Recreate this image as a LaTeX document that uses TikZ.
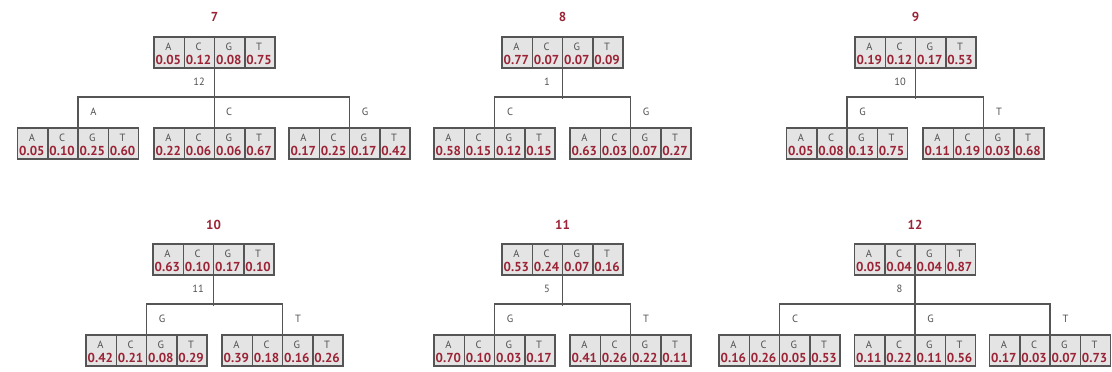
\documentclass[tikz,border=0pt]{standalone}
\usepackage{fontspec}
\setmainfont{PT Sans}
\definecolor{numred}{HTML}{9B2335}
\definecolor{cellfill}{HTML}{E4E4E4}
\definecolor{edgegray}{HTML}{555555}
\definecolor{lettgray}{HTML}{505050}
\tikzset{
  pb/.style={draw=edgegray, line width=1.5pt, fill=cellfill, minimum width=121pt,
    minimum height=31pt, inner sep=0pt, anchor=north,
    path picture={\foreach \i in {1,2,3}{\draw[edgegray, line width=1.5pt]
      ([xshift=\i*30.25pt]path picture bounding box.north west) --
      ([xshift=\i*30.25pt]path picture bounding box.south west);}}},
  lt/.style={anchor=base, inner sep=0pt, text=lettgray, font=\fontsize{10.5}{12}\selectfont},
  nv/.style={anchor=base, inner sep=0pt, text=numred, font=\bfseries\fontsize{13}{14}\selectfont},
  ttl/.style={text=numred, font=\bfseries\fontsize{13}{15}\selectfont, inner sep=0pt},
  wt/.style={text=lettgray, font=\fontsize{10.5}{12}\selectfont, inner sep=0pt},
  conn/.style={draw=edgegray, line width=1.2pt},
}
\newcommand\pbox[7]{%
  \node[pb] (#1) at (#2,#3) {};
  \foreach \L/\V [count=\j] in {A/#4,C/#5,G/#6,T/#7}{
    \node[lt] (#1-l\j) at ([xshift=\j*30.25pt-15.125pt, yshift=-14pt]#1.north west) {\L};
    \node[nv] (#1-v\j) at ([xshift=\j*30.25pt-15.125pt, yshift=-28.5pt]#1.north west) {\V};
  }%
}
\begin{document}
\begin{tikzpicture}[x=1pt,y=-1pt]
\useasboundingbox[fill=white] (0,0) rectangle (1112,372);
% ---- panel 7
\node[ttl] (t7) at (214.5,17) {7};
\pbox{p7}{214.5}{36}{0.05}{0.12}{0.08}{0.75}
\pbox{c7a}{78}{127}{0.05}{0.10}{0.25}{0.60}
\pbox{c7b}{214.5}{127}{0.22}{0.06}{0.06}{0.67}
\pbox{c7c}{349.5}{127}{0.17}{0.25}{0.17}{0.42}
\draw[conn] (p7.south) -- (c7b.north);
\draw[conn] (c7a.north) -- ++(0,-30) -| (c7c.north);
\node[wt] (w7) at (199,82) {12};
\node[wt] (b7a) at (93.5,112) {A};
\node[wt] (b7b) at (229,112) {C};
\node[wt] (b7c) at (365,112) {G};
% ---- panel 8
\node[ttl] (t8) at (562.5,17) {8};
\pbox{p8}{562.5}{36}{0.77}{0.07}{0.07}{0.09}
\pbox{c8a}{494.5}{127}{0.58}{0.15}{0.12}{0.15}
\pbox{c8b}{630.5}{127}{0.63}{0.03}{0.07}{0.27}
\draw[conn] (p8.south) -- ++(0,30);
\draw[conn] (c8a.north) -- ++(0,-30) -| (c8b.north);
\node[wt] (w8) at (547,82) {1};
\node[wt] (b8a) at (510,112) {C};
\node[wt] (b8b) at (646,112) {G};
% ---- panel 9
\node[ttl] (t9) at (915.5,17) {9};
\pbox{p9}{915.5}{36}{0.19}{0.12}{0.17}{0.53}
\pbox{c9a}{847}{127}{0.05}{0.08}{0.13}{0.75}
\pbox{c9b}{983.5}{127}{0.11}{0.19}{0.03}{0.68}
\draw[conn] (p9.south) -- ++(0,30);
\draw[conn] (c9a.north) -- ++(0,-30) -| (c9b.north);
\node[wt] (w9) at (900,82) {10};
\node[wt] (b9a) at (862.5,112) {G};
\node[wt] (b9b) at (999,112) {T};
% ---- panel 10
\node[ttl] (t10) at (213.5,225) {10};
\pbox{p10}{213.5}{243}{0.63}{0.10}{0.17}{0.10}
\pbox{c10a}{146.5}{334}{0.42}{0.21}{0.08}{0.29}
\pbox{c10b}{282.5}{334}{0.39}{0.18}{0.16}{0.26}
\draw[conn] (p10.south) -- ++(0,30);
\draw[conn] (c10a.north) -- ++(0,-30) -| (c10b.north);
\node[wt] (w10) at (198,289) {11};
\node[wt] (b10a) at (162,319) {G};
\node[wt] (b10b) at (298,319) {T};
% ---- panel 11
\node[ttl] (t11) at (562.5,225) {11};
\pbox{p11}{562.5}{243}{0.53}{0.24}{0.07}{0.16}
\pbox{c11a}{494.5}{334}{0.70}{0.10}{0.03}{0.17}
\pbox{c11b}{630.5}{334}{0.41}{0.26}{0.22}{0.11}
\draw[conn] (p11.south) -- ++(0,30);
\draw[conn] (c11a.north) -- ++(0,-30) -| (c11b.north);
\node[wt] (w11) at (547,289) {5};
\node[wt] (b11a) at (510,319) {G};
\node[wt] (b11b) at (646,319) {T};
% ---- panel 12
\node[ttl] (t12) at (915,225) {12};
\pbox{p12}{915}{243}{0.05}{0.04}{0.04}{0.87}
\pbox{c12a}{779.5}{334}{0.16}{0.26}{0.05}{0.53}
\pbox{c12b}{915}{334}{0.11}{0.22}{0.11}{0.56}
\pbox{c12c}{1050}{334}{0.17}{0.03}{0.07}{0.73}
\draw[conn] (p12.south) -- (c12b.north);
\draw[conn] (c12a.north) -- ++(0,-30) -| (c12c.north);
\node[wt] (w12) at (899.5,289) {8};
\node[wt] (b12a) at (795,319) {C};
\node[wt] (b12b) at (930.5,319) {G};
\node[wt] (b12c) at (1065.5,319) {T};
\end{tikzpicture}
\end{document}
